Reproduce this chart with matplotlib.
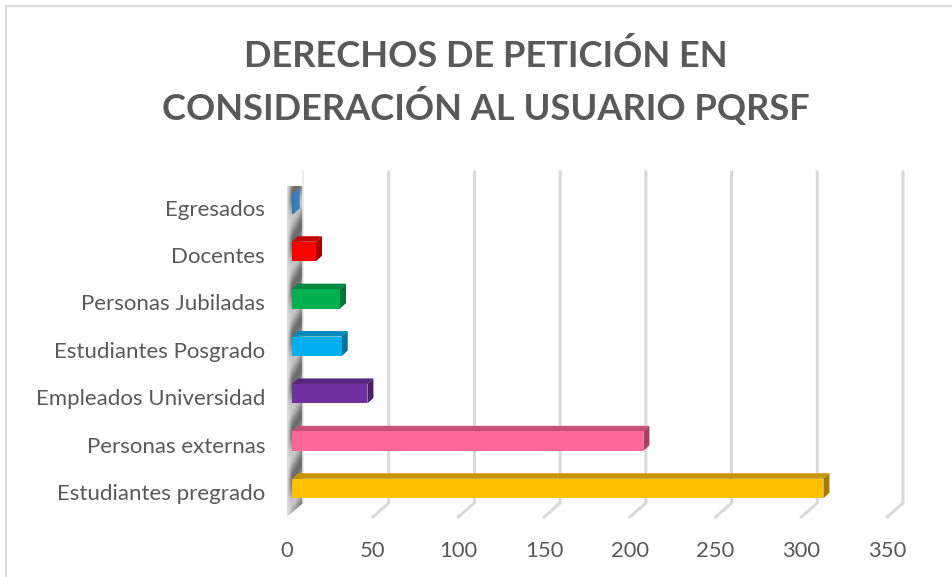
import numpy as np
import matplotlib
matplotlib.use("Agg")
import matplotlib.pyplot as plt
import matplotlib.transforms as mt
from matplotlib.patches import Polygon, Rectangle

categories = ["Estudiantes pregrado", "Personas externas", "Empleados Universidad",
              "Estudiantes Posgrado", "Personas Jubiladas", "Docentes", "Egresados"]
values = [310, 205, 44, 29, 28, 14, 1]
front_colors = ["#FFC000", "#FF6699", "#7030A0", "#00B0F0", "#00B050", "#FF0000", "#2E75B6"]
top_colors = ["#C79500", "#C75078", "#57257D", "#0089BB", "#00893E", "#C70000", "#3A7DBB"]
side_colors = ["#A67C00", "#A64263", "#491F68", "#00729C", "#007234", "#A60000", "#3A7DBB"]
xticks = [0, 50, 100, 150, 200, 250, 300, 350]
title = "DERECHOS DE PETICIÓN EN\nCONSIDERACIÓN AL USUARIO PQRSF"

W, H = 953, 577
fig = plt.figure(figsize=(W / 100, H / 100), dpi=100, facecolor="white")
plt.rcParams["font.family"] = ["Lato", "DejaVu Sans"]

# axes frame in pixels: front floor edge
L, R, B, T = 287, 887, 517, 186
ax = fig.add_axes([L / W, 1 - B / H, (R - L) / W, (B - T) / H])
ppx = 350 / (R - L)          # data per px in x
step = 47.4                  # px per category
y0 = 488.5                   # px of the first category
ax.set_xlim(0, 350)
ax.set_ylim(-(B - y0) / step, (y0 - T) / step)
ppy = 1 / step
for s in ax.spines.values():
    s.set_visible(False)
ax.patch.set_visible(False)

dx, dy = 16 * ppx, 14 * ppy  # full depth of the chart
ymin, ymax = ax.get_ylim()

# grid lines (back wall + floor stub)
grid_c = "#D9D9D9"
for t in xticks[1:]:
    ax.plot([t, t + dx, t + dx], [ymin, ymin + dy, ymax + dy], color=grid_c, lw=2.2,
            clip_on=False, solid_joinstyle="miter", zorder=1)

# side wall with a shaded gradient
ny, nx = 340, 24
yy = np.linspace(ymin, ymax + dy, ny)
xx = np.linspace(0, dx, nx)
X, Y = np.meshgrid(xx, yy)
phase = (Y - X / dx * dy * 2.0 + 0.5)
wave = 0.5 + 0.5 * np.cos(2 * np.pi * phase)
across = np.clip(X / dx, 0, 1)
grey = 0.42 + 0.36 * wave
edge = np.clip((0.3 - across) / 0.3, 0, 1)
grey = grey * (1 - edge) + 0.88 * edge
im = ax.imshow(grey, extent=[0, dx, ymin, ymax + dy], origin="lower", cmap="gray",
               vmin=0, vmax=1, aspect="auto", interpolation="bilinear", zorder=2)
ax.set_xlim(0, 350)
ax.set_ylim(ymin, ymax)
wall = Polygon([(0, ymin), (dx, ymin + dy), (dx, ymax + dy), (0, ymax)], closed=True,
               transform=ax.transData, facecolor="none", edgecolor="none")
ax.add_patch(wall)
im.set_clip_path(wall)
im.set_clip_on(True)
ax.plot([dx, dx], [ymin + dy, ymax + dy], color="#E8E8E8", lw=1.2, clip_on=False, zorder=3)

# 3-D bars: front, top and side faces
x0 = 5 * ppx
h = 19.5 * ppy
bx, by = 6 * ppx, 5.5 * ppy
for i, (v, f, t, s) in enumerate(zip(values, front_colors, top_colors, side_colors)):
    x1 = x0 + v
    y_b, y_t = i - h / 2, i + h / 2
    ax.add_patch(Polygon([(x0, y_t), (x0 + bx, y_t + by), (x1 + bx, y_t + by), (x1, y_t)],
                         closed=True, fc=t, ec="none", zorder=4, clip_on=False))
    ax.add_patch(Polygon([(x1, y_b), (x1 + bx, y_b + by), (x1 + bx, y_t + by), (x1, y_t)],
                         closed=True, fc=s, ec="none", zorder=4, clip_on=False))
    ax.add_patch(Rectangle((x0, y_b), v, h, fc=f, ec="none", zorder=5, clip_on=False))

# axes labels
text_c = "#595959"
ax.set_xticks(xticks)
ax.set_xticklabels([str(t) for t in xticks], fontsize=15.8, color=text_c)
ax.tick_params(axis="x", length=0, pad=17)
ax.set_yticks(range(len(categories)))
ax.set_yticklabels(categories, fontsize=16, color=text_c)
ax.tick_params(axis="y", length=0, pad=15.7)
off = mt.ScaledTranslation(0, -5.5 / 100, fig.dpi_scale_trans)
for lab in ax.get_yticklabels():
    lab.set_verticalalignment("center")
    lab.set_transform(lab.get_transform() + off)

# title
fig.text(486 / W, 1 - 82.5 / H, title, ha="center", va="center", fontsize=26.1,
         fontweight="bold", color=text_c, linespacing=1.44)

# frame (left and top only)
fig.add_artist(plt.Line2D([6 / W, 6 / W], [0, 1 - 6 / H], color="#DDDDDD", lw=1.6))
fig.add_artist(plt.Line2D([6 / W, 1], [1 - 6 / H, 1 - 6 / H], color="#DDDDDD", lw=1.6))

fig.savefig("out.png", dpi=100, facecolor="white")
